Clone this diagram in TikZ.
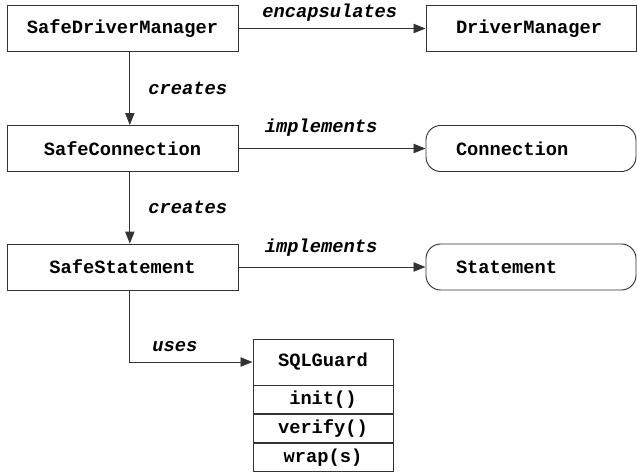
\documentclass[tikz,border=0pt]{standalone}
\usepackage{fontspec}
\setmonofont{Liberation Mono}
\usetikzlibrary{arrows.meta,positioning}

\tikzset{
  cls/.style={draw=black!80, line width=0.8pt, minimum width=6.93cm,
    minimum height=1.38cm, inner sep=0pt},
  ext/.style={draw=black!80, line width=0.8pt, minimum width=6.3cm,
    minimum height=1.38cm, text width=4.5cm, align=left, inner sep=0pt},
  iface/.style={ext, rounded corners=0.44cm},
  part/.style={draw=black!80, line width=0.8pt, minimum width=4.2cm,
    minimum height=0.84cm, inner sep=0pt},
  rel/.style={draw=black!80, line width=0.8pt, -{Triangle[length=0.36cm,width=0.28cm]}},
  lbl/.style={font=\fontsize{16}{19}\selectfont\ttfamily\bfseries\itshape, inner sep=0pt}
}

\begin{document}
\begin{tikzpicture}[x=0.03cm, y=-0.03cm,
    font=\fontsize{16}{19}\selectfont\ttfamily\bfseries]
  \useasboundingbox (0,0) rectangle (637,473);

  % wrappers on the left
  \node[cls] (sdm) at (122.5,28.5) {SafeDriverManager};
  \node[cls] (sconn) at (122.5,148.5) {SafeConnection};
  \node[cls] (sstmt) at (122.5,267) {SafeStatement};

  % what they wrap / implement
  \node[ext] (dm) at (531,28.5) {DriverManager};
  \node[iface] (conn) at (531,148.5) {Connection};
  \node[iface] (stmt) at (531,267) {Statement};

  % guard class with its methods
  \node[part, minimum height=1.38cm] (guard) at (323,362) {SQLGuard};
  \node[part, below=0pt of guard] (ginit) {init()};
  \node[part, below=0pt of ginit] (gverify) {verify()};
  \node[part, below=0pt of gverify] (gwrap) {wrap(s)};

  \draw[rel] (sdm) -- (dm)
    node[lbl, at start, anchor=base west, xshift=0.7cm, yshift=0.32cm] {encapsulates};
  \draw[rel] (sconn) -- (conn)
    node[lbl, at start, anchor=base west, xshift=0.78cm, yshift=0.47cm] {implements};
  \draw[rel] (sstmt) -- (stmt)
    node[lbl, at start, anchor=base west, xshift=0.78cm, yshift=0.45cm] {implements};

  \draw[rel] ([xshift=0.22cm]sdm.south) -- ([xshift=0.22cm]sconn.north)
    node[lbl, midway, anchor=west, xshift=0.54cm] {creates};
  \draw[rel] ([xshift=0.22cm]sconn.south) -- ([xshift=0.22cm]sstmt.north)
    node[lbl, midway, anchor=west, xshift=0.54cm] {creates};
  \draw[rel] ([xshift=0.22cm]sstmt.south) |- (guard)
    node[lbl, pos=0.5, anchor=base west, xshift=0.66cm, yshift=0.33cm] {uses};
\end{tikzpicture}
\end{document}
